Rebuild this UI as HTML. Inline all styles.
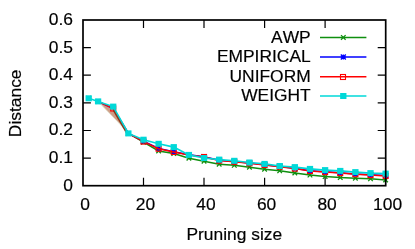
<!DOCTYPE html>
<html><head><meta charset="utf-8"><style>
html,body{margin:0;padding:0;background:#fff;}
svg{display:block;position:absolute;left:0;top:0;will-change:transform;}
text{font-family:"Liberation Sans",sans-serif;font-size:17.4px;font-kerning:none;fill:#000;stroke:#000;stroke-width:0.18px;}
</style></head><body>
<svg width="415" height="249" viewBox="0 0 415 249">
<polyline points="128.4,133.4 143.5,142.2 158.6,151.0 173.8,153.5 188.9,158.2 204.0,161.2 219.2,164.2 234.3,165.3 249.4,167.2 264.6,169.2 279.7,170.8 294.8,173.0 310.0,175.1 325.1,176.6 340.2,177.6 355.4,178.2 370.5,178.8 385.6,180.0" fill="none" stroke="#0f8f0f" stroke-width="1.5"/>
<path d="M86.40 96.00l4.60 4.60m0 -4.60l-4.60 4.60" stroke="#0f8f0f" stroke-width="1.3" fill="none"/>
<path d="M95.79 99.10l4.60 4.60m0 -4.60l-4.60 4.60" stroke="#0f8f0f" stroke-width="1.3" fill="none"/>
<path d="M126.06 131.10l4.60 4.60m0 -4.60l-4.60 4.60" stroke="#0f8f0f" stroke-width="1.3" fill="none"/>
<path d="M141.19 139.90l4.60 4.60m0 -4.60l-4.60 4.60" stroke="#0f8f0f" stroke-width="1.3" fill="none"/>
<path d="M156.32 148.70l4.60 4.60m0 -4.60l-4.60 4.60" stroke="#0f8f0f" stroke-width="1.3" fill="none"/>
<path d="M171.46 151.20l4.60 4.60m0 -4.60l-4.60 4.60" stroke="#0f8f0f" stroke-width="1.3" fill="none"/>
<path d="M186.59 155.90l4.60 4.60m0 -4.60l-4.60 4.60" stroke="#0f8f0f" stroke-width="1.3" fill="none"/>
<path d="M201.73 158.90l4.60 4.60m0 -4.60l-4.60 4.60" stroke="#0f8f0f" stroke-width="1.3" fill="none"/>
<path d="M216.87 161.90l4.60 4.60m0 -4.60l-4.60 4.60" stroke="#0f8f0f" stroke-width="1.3" fill="none"/>
<path d="M232.00 163.00l4.60 4.60m0 -4.60l-4.60 4.60" stroke="#0f8f0f" stroke-width="1.3" fill="none"/>
<path d="M247.13 164.90l4.60 4.60m0 -4.60l-4.60 4.60" stroke="#0f8f0f" stroke-width="1.3" fill="none"/>
<path d="M262.27 166.90l4.60 4.60m0 -4.60l-4.60 4.60" stroke="#0f8f0f" stroke-width="1.3" fill="none"/>
<path d="M277.40 168.50l4.60 4.60m0 -4.60l-4.60 4.60" stroke="#0f8f0f" stroke-width="1.3" fill="none"/>
<path d="M292.54 170.70l4.60 4.60m0 -4.60l-4.60 4.60" stroke="#0f8f0f" stroke-width="1.3" fill="none"/>
<path d="M307.68 172.80l4.60 4.60m0 -4.60l-4.60 4.60" stroke="#0f8f0f" stroke-width="1.3" fill="none"/>
<path d="M322.81 174.30l4.60 4.60m0 -4.60l-4.60 4.60" stroke="#0f8f0f" stroke-width="1.3" fill="none"/>
<path d="M337.94 175.30l4.60 4.60m0 -4.60l-4.60 4.60" stroke="#0f8f0f" stroke-width="1.3" fill="none"/>
<path d="M353.08 175.90l4.60 4.60m0 -4.60l-4.60 4.60" stroke="#0f8f0f" stroke-width="1.3" fill="none"/>
<path d="M368.21 176.50l4.60 4.60m0 -4.60l-4.60 4.60" stroke="#0f8f0f" stroke-width="1.3" fill="none"/>
<path d="M383.35 177.70l4.60 4.60m0 -4.60l-4.60 4.60" stroke="#0f8f0f" stroke-width="1.3" fill="none"/>
<polygon points="98.1,101.4 113.2,108.5 128.4,133.0" fill="#d09c86" stroke="#dde6d2" stroke-width="0.8"/>
<polyline points="98.1,101.4 113.2,108.5 128.4,133.4 143.5,141.3 158.6,148.4 173.8,151.7 188.9,154.7 204.0,156.7 219.2,160.3 234.3,161.5 249.4,163.0 264.6,164.7 279.7,166.4 294.8,168.3 310.0,170.7 325.1,171.8 340.2,172.8 355.4,174.0 370.5,174.8 385.6,175.6" fill="none" stroke="#0000ff" stroke-width="1.5"/>
<path d="M140.99 138.80l5.00 5.00m0 -5.00l-5.00 5.00M143.49 138.80v5.00M140.99 141.30h5.00" stroke="#0000ff" stroke-width="1.3" fill="none"/>
<path d="M156.12 145.90l5.00 5.00m0 -5.00l-5.00 5.00M158.62 145.90v5.00M156.12 148.40h5.00" stroke="#0000ff" stroke-width="1.3" fill="none"/>
<path d="M171.26 149.20l5.00 5.00m0 -5.00l-5.00 5.00M173.76 149.20v5.00M171.26 151.70h5.00" stroke="#0000ff" stroke-width="1.3" fill="none"/>
<path d="M201.53 154.20l5.00 5.00m0 -5.00l-5.00 5.00M204.03 154.20v5.00M201.53 156.70h5.00" stroke="#0000ff" stroke-width="1.3" fill="none"/>
<path d="M216.67 157.80l5.00 5.00m0 -5.00l-5.00 5.00M219.17 157.80v5.00M216.67 160.30h5.00" stroke="#0000ff" stroke-width="1.3" fill="none"/>
<path d="M231.80 159.00l5.00 5.00m0 -5.00l-5.00 5.00M234.30 159.00v5.00M231.80 161.50h5.00" stroke="#0000ff" stroke-width="1.3" fill="none"/>
<path d="M246.94 160.50l5.00 5.00m0 -5.00l-5.00 5.00M249.44 160.50v5.00M246.94 163.00h5.00" stroke="#0000ff" stroke-width="1.3" fill="none"/>
<path d="M262.07 162.20l5.00 5.00m0 -5.00l-5.00 5.00M264.57 162.20v5.00M262.07 164.70h5.00" stroke="#0000ff" stroke-width="1.3" fill="none"/>
<path d="M277.20 163.90l5.00 5.00m0 -5.00l-5.00 5.00M279.70 163.90v5.00M277.20 166.40h5.00" stroke="#0000ff" stroke-width="1.3" fill="none"/>
<path d="M292.34 165.80l5.00 5.00m0 -5.00l-5.00 5.00M294.84 165.80v5.00M292.34 168.30h5.00" stroke="#0000ff" stroke-width="1.3" fill="none"/>
<path d="M307.48 168.20l5.00 5.00m0 -5.00l-5.00 5.00M309.98 168.20v5.00M307.48 170.70h5.00" stroke="#0000ff" stroke-width="1.3" fill="none"/>
<path d="M322.61 169.30l5.00 5.00m0 -5.00l-5.00 5.00M325.11 169.30v5.00M322.61 171.80h5.00" stroke="#0000ff" stroke-width="1.3" fill="none"/>
<path d="M337.75 170.30l5.00 5.00m0 -5.00l-5.00 5.00M340.25 170.30v5.00M337.75 172.80h5.00" stroke="#0000ff" stroke-width="1.3" fill="none"/>
<path d="M352.88 171.50l5.00 5.00m0 -5.00l-5.00 5.00M355.38 171.50v5.00M352.88 174.00h5.00" stroke="#0000ff" stroke-width="1.3" fill="none"/>
<path d="M368.01 172.30l5.00 5.00m0 -5.00l-5.00 5.00M370.51 172.30v5.00M368.01 174.80h5.00" stroke="#0000ff" stroke-width="1.3" fill="none"/>
<path d="M383.15 173.10l5.00 5.00m0 -5.00l-5.00 5.00M385.65 173.10v5.00M383.15 175.60h5.00" stroke="#0000ff" stroke-width="1.3" fill="none"/>
<polyline points="98.1,101.4 113.2,108.5 128.4,133.4 143.5,141.6 158.6,148.7 173.8,152.0 188.9,155.0 204.0,157.0 219.2,160.6 234.3,161.8 249.4,163.3 264.6,165.0 279.7,166.7 294.8,168.6 310.0,171.0 325.1,172.1 340.2,173.1 355.4,174.3 370.5,175.1 385.6,175.9" fill="none" stroke="#ff0000" stroke-width="1.5"/>
<rect x="110.72" y="106.00" width="5.00" height="5.00" stroke="#ff0000" stroke-width="1.1" fill="none"/>
<rect x="140.99" y="139.10" width="5.00" height="5.00" stroke="#ff0000" stroke-width="1.1" fill="none"/>
<rect x="156.12" y="146.20" width="5.00" height="5.00" stroke="#ff0000" stroke-width="1.1" fill="none"/>
<rect x="171.26" y="149.50" width="5.00" height="5.00" stroke="#ff0000" stroke-width="1.1" fill="none"/>
<rect x="201.53" y="154.50" width="5.00" height="5.00" stroke="#ff0000" stroke-width="1.1" fill="none"/>
<rect x="216.67" y="158.10" width="5.00" height="5.00" stroke="#ff0000" stroke-width="1.1" fill="none"/>
<rect x="231.80" y="159.30" width="5.00" height="5.00" stroke="#ff0000" stroke-width="1.1" fill="none"/>
<rect x="246.94" y="160.80" width="5.00" height="5.00" stroke="#ff0000" stroke-width="1.1" fill="none"/>
<rect x="262.07" y="162.50" width="5.00" height="5.00" stroke="#ff0000" stroke-width="1.1" fill="none"/>
<rect x="277.20" y="164.20" width="5.00" height="5.00" stroke="#ff0000" stroke-width="1.1" fill="none"/>
<rect x="292.34" y="166.10" width="5.00" height="5.00" stroke="#ff0000" stroke-width="1.1" fill="none"/>
<rect x="307.48" y="168.50" width="5.00" height="5.00" stroke="#ff0000" stroke-width="1.1" fill="none"/>
<rect x="322.61" y="169.60" width="5.00" height="5.00" stroke="#ff0000" stroke-width="1.1" fill="none"/>
<rect x="337.75" y="170.60" width="5.00" height="5.00" stroke="#ff0000" stroke-width="1.1" fill="none"/>
<rect x="352.88" y="171.80" width="5.00" height="5.00" stroke="#ff0000" stroke-width="1.1" fill="none"/>
<rect x="368.01" y="172.60" width="5.00" height="5.00" stroke="#ff0000" stroke-width="1.1" fill="none"/>
<rect x="383.15" y="173.40" width="5.00" height="5.00" stroke="#ff0000" stroke-width="1.1" fill="none"/>
<path d="M113.5 110.4L126.6 132.8" stroke="#8c3a18" stroke-width="1.5" fill="none"/>
<polyline points="88.7,98.3 98.1,101.4 113.2,106.6 128.4,133.4 143.5,139.7 158.6,143.8 173.8,147.1 188.9,154.9 204.0,158.0 219.2,159.6 234.3,160.8 249.4,162.5 264.6,163.9 279.7,166.0 294.8,167.1 310.0,168.9 325.1,170.1 340.2,170.9 355.4,172.1 370.5,173.1 385.6,173.6" fill="none" stroke="#00d8d8" stroke-width="1.6"/>
<rect x="85.55" y="95.30" width="6.30" height="6.00" fill="#00d8d8"/>
<rect x="94.94" y="98.40" width="6.30" height="6.00" fill="#00d8d8"/>
<rect x="110.07" y="103.60" width="6.30" height="6.00" fill="#00d8d8"/>
<rect x="125.21" y="130.40" width="6.30" height="6.00" fill="#00d8d8"/>
<rect x="140.34" y="136.70" width="6.30" height="6.00" fill="#00d8d8"/>
<rect x="155.47" y="140.80" width="6.30" height="6.00" fill="#00d8d8"/>
<rect x="170.61" y="144.10" width="6.30" height="6.00" fill="#00d8d8"/>
<rect x="185.74" y="151.90" width="6.30" height="6.00" fill="#00d8d8"/>
<rect x="200.88" y="155.00" width="6.30" height="6.00" fill="#00d8d8"/>
<rect x="216.02" y="156.60" width="6.30" height="6.00" fill="#00d8d8"/>
<rect x="231.15" y="157.80" width="6.30" height="6.00" fill="#00d8d8"/>
<rect x="246.28" y="159.50" width="6.30" height="6.00" fill="#00d8d8"/>
<rect x="261.42" y="160.90" width="6.30" height="6.00" fill="#00d8d8"/>
<rect x="276.56" y="163.00" width="6.30" height="6.00" fill="#00d8d8"/>
<rect x="291.69" y="164.10" width="6.30" height="6.00" fill="#00d8d8"/>
<rect x="306.83" y="165.90" width="6.30" height="6.00" fill="#00d8d8"/>
<rect x="321.96" y="167.10" width="6.30" height="6.00" fill="#00d8d8"/>
<rect x="337.10" y="167.90" width="6.30" height="6.00" fill="#00d8d8"/>
<rect x="352.23" y="169.10" width="6.30" height="6.00" fill="#00d8d8"/>
<rect x="367.37" y="170.10" width="6.30" height="6.00" fill="#00d8d8"/>
<rect x="382.50" y="170.60" width="6.30" height="6.00" fill="#00d8d8"/>
<rect x="83.0" y="20.0" width="302.7" height="165.7" fill="none" stroke="#000" stroke-width="1.7"/>
<text x="73.0" y="190.6" text-anchor="end">0</text>
<path d="M83.0 158.1h7.9 M385.6 158.1h-7.9" stroke="#000" stroke-width="1.2"/>
<text x="73.0" y="163.0" text-anchor="end">0.1</text>
<path d="M83.0 130.5h7.9 M385.6 130.5h-7.9" stroke="#000" stroke-width="1.2"/>
<text x="73.0" y="135.4" text-anchor="end">0.2</text>
<path d="M83.0 102.8h7.9 M385.6 102.8h-7.9" stroke="#000" stroke-width="1.2"/>
<text x="73.0" y="107.8" text-anchor="end">0.3</text>
<path d="M83.0 75.2h7.9 M385.6 75.2h-7.9" stroke="#000" stroke-width="1.2"/>
<text x="73.0" y="80.1" text-anchor="end">0.4</text>
<path d="M83.0 47.6h7.9 M385.6 47.6h-7.9" stroke="#000" stroke-width="1.2"/>
<text x="73.0" y="52.5" text-anchor="end">0.5</text>
<text x="73.0" y="24.9" text-anchor="end">0.6</text>
<text x="85.0" y="210.3" text-anchor="middle">0</text>
<path d="M143.5 185.7v-7.9 M143.5 20.0v7.9" stroke="#000" stroke-width="1.2"/>
<text x="145.5" y="210.3" text-anchor="middle">20</text>
<path d="M204.0 185.7v-7.9 M204.0 20.0v7.9" stroke="#000" stroke-width="1.2"/>
<text x="206.0" y="210.3" text-anchor="middle">40</text>
<path d="M264.6 185.7v-7.9 M264.6 20.0v7.9" stroke="#000" stroke-width="1.2"/>
<text x="266.6" y="210.3" text-anchor="middle">60</text>
<path d="M325.1 185.7v-7.9 M325.1 20.0v7.9" stroke="#000" stroke-width="1.2"/>
<text x="327.1" y="210.3" text-anchor="middle">80</text>
<text x="387.6" y="210.3" text-anchor="middle">100</text>
<text x="310.7" y="42.5" text-anchor="end">AWP</text>
<path d="M320 37.4H366.4" stroke="#0f8f0f" stroke-width="1.5"/>
<path d="M341.00 35.10l4.60 4.60m0 -4.60l-4.60 4.60" stroke="#0f8f0f" stroke-width="1.3" fill="none"/>
<text x="310.7" y="62.1" text-anchor="end">EMPIRICAL</text>
<path d="M320 57.0H366.4" stroke="#0000ff" stroke-width="1.5"/>
<path d="M340.80 54.50l5.00 5.00m0 -5.00l-5.00 5.00M343.30 54.50v5.00M340.80 57.00h5.00" stroke="#0000ff" stroke-width="1.3" fill="none"/>
<text x="310.7" y="81.9" text-anchor="end">UNIFORM</text>
<path d="M320 76.8H366.4" stroke="#ff0000" stroke-width="1.5"/>
<rect x="340.50" y="74.50" width="5.00" height="5.00" stroke="#ff0000" stroke-width="1.1" fill="none"/>
<text x="310.7" y="101.1" text-anchor="end">WEIGHT</text>
<path d="M320 96.0H366.4" stroke="#00d8d8" stroke-width="1.5"/>
<rect x="340.15" y="93.00" width="6.30" height="6.00" fill="#00d8d8"/>
<text x="234.3" y="239.6" text-anchor="middle">Pruning size</text>
<text transform="translate(21.0,103.3) rotate(-90)" text-anchor="middle">Distance</text>
</svg>
</body></html>
